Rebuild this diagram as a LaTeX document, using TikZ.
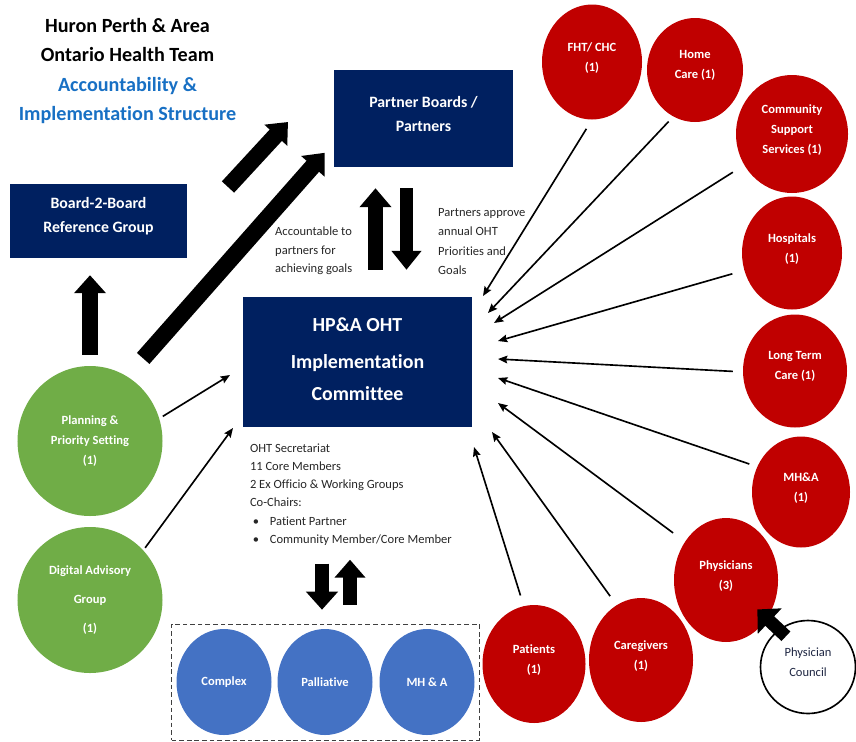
\documentclass[tikz,border=0pt]{standalone}
\usepackage{fontspec}
\setmainfont{Carlito}[Ligatures=NoCommon]
\usepackage{tikz}
\usetikzlibrary{positioning, arrows.meta, shapes.geometric, fit}

\definecolor{hpnavy}{RGB}{0,32,96}
\definecolor{hpred}{RGB}{192,0,0}
\definecolor{hpgreen}{RGB}{112,173,71}
\definecolor{hpblue}{RGB}{68,114,196}
\definecolor{hptitle}{RGB}{24,112,196}
\definecolor{hpink}{RGB}{30,38,66}

\def\notebullet{\makebox[17pt][l]{\hspace{2.5pt}\textbullet}}

\tikzset{
    heading/.style={anchor=north, inner sep=0pt, align=center,
        font=\fontsize{17.2}{25.2}\selectfont\bfseries},
    board/.style={fill=hpnavy, text=white, align=center, inner sep=0pt,
        font=\fontsize{13.5}{20.5}\selectfont\bfseries},
    member/.style={ellipse, fill=hpred, text=white, align=center, inner sep=0pt,
        font=\fontsize{10.7}{17}\selectfont\bfseries},
    partner/.style={member, text depth=9pt},
    planning/.style={member, fill=hpgreen},
    group/.style={member, fill=hpblue, minimum width=28.5mm, minimum height=31.8mm},
    note/.style={anchor=north west, align=left, inner sep=0pt, text=black!85,
        font=\fontsize{10.7}{15.6}\selectfont},
    feed/.style={-{Stealth[length=2.8mm, width=2.3mm, inset=0.4mm]}, line width=1.4pt},
    bigarrow/.style={-{Triangle[length=5.4mm, width=9mm]}, line width=5mm}
}

\begin{document}
\begin{tikzpicture}[x=0.3mm, y=-0.3mm]
    \useasboundingbox (0,0) rectangle (856,741);

    % title
    \node[heading] (title) at (127.5,18)
        {Huron Perth \& Area\\Ontario Health Team\\
         \textcolor{hptitle}{Accountability \&}\\\textcolor{hptitle}{Implementation Structure}};

    % boards and committee
    \node[board, minimum width=53.7mm, minimum height=29.1mm, text depth=7.7pt] (pb) at (423.5,118.5)
        {Partner Boards /\\Partners};
    \node[board, minimum width=53.1mm, minimum height=22.2mm, text depth=9.5pt] (b2b) at (98.5,221)
        {Board-2-Board\\Reference Group};
    \node[board, minimum width=68.7mm, minimum height=39mm, text depth=5.1pt,
          font=\fontsize{17}{27.3}\selectfont\bfseries] (hpa) at (357.5,362)
        {HP\&A OHT\\[4.5pt]Implementation\\Committee};

    % side notes
    \node[note] (accountable) at (275,227) {Accountable to\\partners for\\achieving goals};
    \node[note, font=\fontsize{10.7}{16.6}\selectfont] (approve) at (438,208)
        {Partners approve\\annual OHT\\Priorities and\\Goals};
    \node[note] (secretariat) at ([shift={(7,16)}]hpa.south west)
        {OHT Secretariat\\11 Core Members\\2 Ex Officio \& Working Groups\\Co-Chairs:\\
         \notebullet Patient Partner\\\notebullet Community Member/Core Member};

    % partner circles
    \foreach \nm/\cx/\cy/\w/\h/\txt in {
        fht/592/62/100/115/{FHT/ CHC\\(1)},
        home/695/70/96/104/{Home\\Care (1)},
        css/792/134/112/118/{Community\\Support\\Services (1)},
        hosp/792/253/100/113/{Hospitals\\(1)},
        ltc/795/371/104/113/{Long Term\\Care (1)},
        mha/801/492/98/111/{MH\&A\\(1)},
        phys/726/580/104/124/{Physicians\\(3)},
        care/641/660/104/124/{Caregivers\\(1)},
        pat/534/664/103/118/{Patients\\(1)}}
    {
        \node[partner, minimum width=\w*0.3mm, minimum height=\h*0.3mm] (\nm) at (\cx,\cy) {\txt};
    }

    \node[ellipse, draw=black, line width=1.4pt, fill=white, minimum width=28.5mm,
          minimum height=27.9mm, align=center, inner sep=0pt, text=hpink, text depth=8.5pt,
          font=\fontsize{10.7}{17}\selectfont] (council) at (808,667) {Physician\\Council};

    % green circles
    \node[planning, minimum width=43.5mm, minimum height=45mm] (plan) at (90,441)
        {Planning \&\\Priority Setting\\(1)};
    \node[planning, minimum width=43.5mm, minimum height=43.8mm,
          font=\fontsize{10.7}{25}\selectfont\bfseries] (digital) at (90,600)
        {Digital Advisory\\Group\\(1)};

    % working groups
    \foreach \nm/\cx/\txt in {complex/224/Complex, pall/325/Palliative, mhw/427/{MH \& A}}
    {
        \node[group] (\nm) at (\cx,682) {\txt};
    }
    \node[draw=black!75, line width=0.7pt, dash pattern=on 4pt off 2.5pt, inner sep=1.4mm,
          fit=(complex)(pall)(mhw)] (wg) {};

    % arrow tips near the committee
    \coordinate (T1) at (483,296);
    \coordinate (T2) at (488,313);
    \coordinate (T3) at (494,323);
    \coordinate (T4) at (498,341);
    \coordinate (T5) at (498,359);
    \coordinate (T6) at (498,378);
    \coordinate (T7) at (498,403);
    \coordinate (T8) at (492,432);
    \coordinate (T9) at (474,447);
    \coordinate (G1) at (230,375);
    \coordinate (G2) at (233,428);

    \coordinate (U1S) at (228,187);
    \coordinate (U1E) at (288,122);

    % partner lines
    \foreach \nm/\ang/\tip/\gap in {
        fht/270/T1/3.2mm, home/245/T2/2mm, css/213/T3/4mm,
        hosp/200/T4/3.7mm, ltc/181/T5/3mm, mha/150/T6/2.5mm,
        phys/137/T7/4.4mm, care/114/T8/3.3mm, pat/100/T9/3.3mm}
    {
        \draw[feed, shorten <=\gap] (\nm.\ang) -- (\tip);
    }

    \draw[feed, shorten <=1.2mm] (plan.18) -- (G1);
    \draw[feed, shorten <=0.9mm] (digital.43) -- (G2);

    % block arrows
    \draw[bigarrow] (U1S) -- (U1E);
    \draw[bigarrow, shorten <=7.2mm, shorten >=4.1mm] (plan.60) -- (pb.195);
    \draw[bigarrow, line width=4.8mm, -{Triangle[length=5.4mm, width=9.3mm]},
          shorten <=3.3mm, shorten >=5.1mm] (plan.north) -- (plan.north |- b2b.south);

    \draw[bigarrow, line width=4.5mm, -{Triangle[length=5.7mm, width=9.3mm]}]
        ([shift={(18,-27)}]hpa.north) -- ([shift={(-48,21)}]pb.south);
    \draw[bigarrow, line width=4mm, -{Triangle[length=5.7mm, width=8.7mm]}]
        ([shift={(-17,21)}]pb.south) -- ([shift={(49,-27)}]hpa.north);

    \draw[bigarrow, line width=4.2mm, -{Triangle[length=5.4mm, width=9.3mm]}]
        ([shift={(-3.5,-60)}]wg.north) -- ([shift={(-3.5,-14)}]wg.north);
    \draw[bigarrow, line width=4.2mm, -{Triangle[length=5.4mm, width=9mm]}]
        ([shift={(24.5,-19)}]wg.north) -- ([shift={(24.5,-64)}]wg.north);

    \draw[bigarrow, line width=3.9mm, -{Triangle[length=5.1mm, width=10.2mm]},
          shorten <=-3mm, shorten >=12.9mm] (council.128) -- (phys.center);

\end{tikzpicture}
\end{document}
